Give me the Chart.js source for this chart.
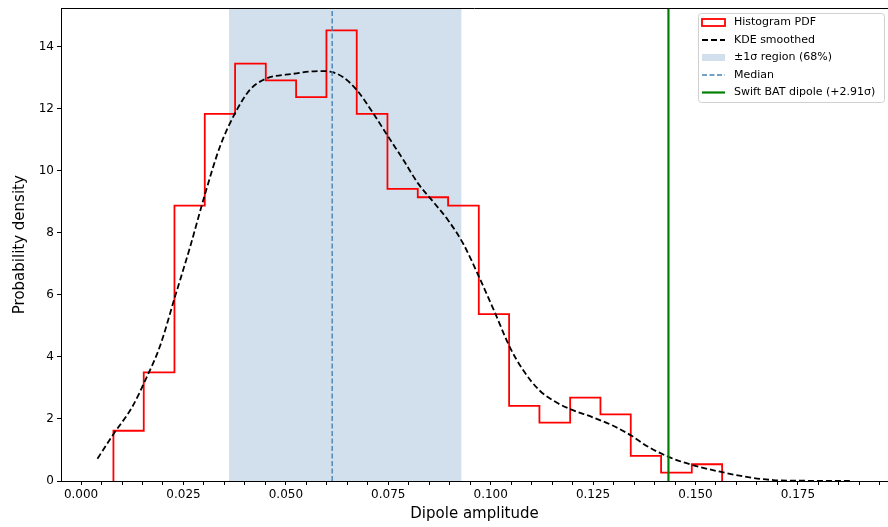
<!DOCTYPE html>
<html>
<head>
<meta charset="utf-8">
<script src="https://cdn.jsdelivr.net/npm/chart.js@4.4.0/dist/chart.umd.min.js"></script>
<style>
  body { margin: 0; background: #fff; }
  #wrap { width: 888px; height: 527px; }
</style>
</head>
<body>
<div id="wrap"><canvas id="dipoleChart" width="888" height="527"></canvas></div>
<script>
// histogram (density)
const binEdges = [0.0079, 0.0153, 0.0228, 0.0302, 0.0376, 0.0451, 0.0525, 0.0599, 0.0673, 0.0748,
  0.0822, 0.0896, 0.0971, 0.1045, 0.1119, 0.1194, 0.1268, 0.1342, 0.1416, 0.1491, 0.1565];
const histDensity = [1.62, 3.50, 8.88, 11.84, 13.46, 12.92, 12.38, 14.53, 11.84, 9.42,
  9.15, 8.88, 5.38, 2.42, 1.88, 2.69, 2.15, 0.81, 0.27, 0.54];

// KDE curve
const kdeX = [0.0040, 0.0079, 0.0124, 0.0160, 0.0193, 0.0229, 0.0266, 0.0303, 0.0339, 0.0378,
  0.0412, 0.0449, 0.0518, 0.0583, 0.0608, 0.0640, 0.0673, 0.0713, 0.0750, 0.0787,
  0.0823, 0.0860, 0.0896, 0.0933, 0.0972, 0.1010, 0.1047, 0.1080, 0.1120, 0.1161,
  0.1194, 0.1250, 0.1299, 0.1345, 0.1381, 0.1434, 0.1491, 0.1560, 0.1625, 0.1690,
  0.1755, 0.1877];
const kdeY = [0.72, 1.51, 2.37, 3.34, 4.36, 5.93, 7.54, 9.27, 10.78, 11.91,
  12.61, 12.96, 13.13, 13.22, 13.20, 13.02, 12.61, 11.86, 11.10, 10.35,
  9.59, 9.00, 8.41, 7.65, 6.57, 5.44, 4.31, 3.56, 2.91, 2.53,
  2.32, 2.05, 1.78, 1.45, 1.13, 0.78, 0.52, 0.30, 0.13, 0.03,
  0.01, 0.0];

const sigmaRegion = [0.0361, 0.0929];
const medianValue = 0.0613;
const swiftBatValue = 0.1434;

const xMajorTicks = [0, 0.025, 0.05, 0.075, 0.1, 0.125, 0.15, 0.175];
const yTicks = [0, 2, 4, 6, 8, 10, 12, 14];
const legendLabels = ['Histogram PDF', 'KDE smoothed', '±1σ region (68%)', 'Median', 'Swift BAT dipole (+2.91σ)'];

const X_MIN = -0.0049, X_MAX = 0.197, Y_MAX = 15.24;
const FONT = 'DejaVu Sans';
const BAND_COLOR = 'rgba(70,130,180,0.25)';
const MEDIAN_COLOR = 'rgb(70,130,180)';

// step outline for the histogram
const histPoints = [{ x: binEdges[0], y: 0 }];
histDensity.forEach((d, i) => {
  histPoints.push({ x: binEdges[i], y: d }, { x: binEdges[i + 1], y: d });
});
histPoints.push({ x: binEdges[binEdges.length - 1], y: 0 });

const kdePoints = kdeX.map((x, i) => ({ x, y: kdeY[i] }));

// minor ticks every 0.005 between major ones
const xTickValues = [];
for (let k = 0; k * 0.005 <= X_MAX; k++) xTickValues.push(+(k * 0.005).toFixed(3));

const isMajor = v => xMajorTicks.some(m => Math.abs(m - v) < 1e-9);

const frame = {
  id: 'frame',
  afterDraw(chart) {
    const { ctx, chartArea: a } = chart;
    const y = Math.floor(a.top) + 0.5;
    ctx.save();
    ctx.strokeStyle = '#000';
    ctx.lineWidth = 1;
    ctx.beginPath();
    ctx.moveTo(a.left, y);
    ctx.lineTo(a.right, y);
    ctx.stroke();
    ctx.restore();
  }
};

const boxLegend = {
  id: 'boxLegend',
  afterDraw(chart) {
    const { ctx, chartArea: a } = chart;
    const bw = 186, bh = 89;
    const bx = Math.round(a.right - bw - 4), by = Math.round(a.top + 5);
    ctx.save();
    ctx.beginPath();
    ctx.roundRect(bx + 0.5, by + 0.5, bw, bh, 3);
    ctx.fillStyle = 'rgba(255,255,255,0.8)';
    ctx.fill();
    ctx.strokeStyle = '#d0d0d0';
    ctx.lineWidth = 1;
    ctx.stroke();

    const hx0 = bx + 4, hx1 = bx + 27, tx = bx + 36;
    ctx.font = '11px ' + FONT;
    ctx.textBaseline = 'middle';
    legendLabels.forEach((label, i) => {
      const y = by + 9.5 + i * 17.5;
      ctx.setLineDash([]);
      if (i === 0) {
        ctx.strokeStyle = 'red';
        ctx.lineWidth = 1.8;
        ctx.strokeRect(hx0, y - 3.5, hx1 - hx0, 7);
      } else if (i === 2) {
        ctx.fillStyle = BAND_COLOR;
        ctx.fillRect(hx0, y - 3.5, hx1 - hx0, 7);
      } else {
        ctx.beginPath();
        ctx.moveTo(hx0, y);
        ctx.lineTo(hx1, y);
        if (i === 1) { ctx.strokeStyle = '#000'; ctx.lineWidth = 1.8; ctx.setLineDash([6, 3]); }
        if (i === 3) { ctx.strokeStyle = MEDIAN_COLOR; ctx.lineWidth = 1.4; ctx.setLineDash([5, 2.5]); }
        if (i === 4) { ctx.strokeStyle = 'green'; ctx.lineWidth = 2.2; }
        ctx.stroke();
      }
      ctx.fillStyle = '#000';
      ctx.fillText(label, tx, y);
    });
    ctx.restore();
  }
};

const ctx = document.getElementById('dipoleChart').getContext('2d');
new Chart(ctx, {
  type: 'scatter',
  data: {
    datasets: [
      {
        label: 'Swift BAT dipole',
        data: [{ x: swiftBatValue, y: 0 }, { x: swiftBatValue, y: Y_MAX }],
        showLine: true, borderColor: 'green', borderWidth: 2.2, pointRadius: 0, order: 1
      },
      {
        label: 'Median',
        data: [{ x: medianValue, y: 0 }, { x: medianValue, y: Y_MAX }],
        showLine: true, borderColor: MEDIAN_COLOR, borderWidth: 1.4, borderDash: [5, 2.5], pointRadius: 0, order: 2
      },
      {
        label: 'KDE smoothed',
        data: kdePoints,
        showLine: true, borderColor: '#000', borderWidth: 1.8, borderDash: [6, 3],
        cubicInterpolationMode: 'monotone', pointRadius: 0, order: 3
      },
      {
        label: 'Histogram PDF',
        data: histPoints,
        showLine: true, borderColor: 'red', borderWidth: 1.8, pointRadius: 0, order: 4
      },
      {
        label: '±1σ region',
        data: [{ x: sigmaRegion[0], y: Y_MAX }, { x: sigmaRegion[1], y: Y_MAX }],
        showLine: true, borderWidth: 0, borderColor: 'rgba(0,0,0,0)',
        backgroundColor: BAND_COLOR, fill: 'origin', pointRadius: 0, order: 5
      }
    ]
  },
  options: {
    responsive: false,
    animation: false,
    layout: { padding: { top: 8, right: 0, left: 0, bottom: 0 } },
    plugins: { legend: { display: false }, tooltip: { enabled: false } },
    scales: {
      x: {
        type: 'linear', min: X_MIN, max: X_MAX,
        afterFit: s => { s.height = 46; },
        afterBuildTicks: s => { s.ticks = xTickValues.map(v => ({ value: v })); },
        grid: { display: true, drawOnChartArea: false, color: '#000', tickLength: 4 },
        border: { display: true, color: '#000', width: 1 },
        ticks: {
          autoSkip: false, maxRotation: 0, padding: 3, color: '#000',
          font: { family: FONT, size: 12 },
          callback: v => isMajor(v) ? v.toFixed(3) : ''
        },
        title: { display: true, text: 'Dipole amplitude', color: '#000',
          font: { family: FONT, size: 15 }, padding: { top: 0, bottom: 4 } }
      },
      y: {
        type: 'linear', min: 0, max: Y_MAX,
        afterFit: s => { s.width = 61; },
        afterBuildTicks: s => { s.ticks = yTicks.map(v => ({ value: v })); },
        grid: { display: true, drawOnChartArea: false, color: '#000', tickLength: 4 },
        border: { display: true, color: '#000', width: 1 },
        ticks: { padding: 3, color: '#000', font: { family: FONT, size: 12, lineHeight: 0.9 } },
        title: { display: true, text: 'Probability density', color: '#000',
          font: { family: FONT, size: 15 }, padding: { top: 11, bottom: 0 } }
      }
    }
  },
  plugins: [frame, boxLegend]
});
</script>
</body>
</html>
